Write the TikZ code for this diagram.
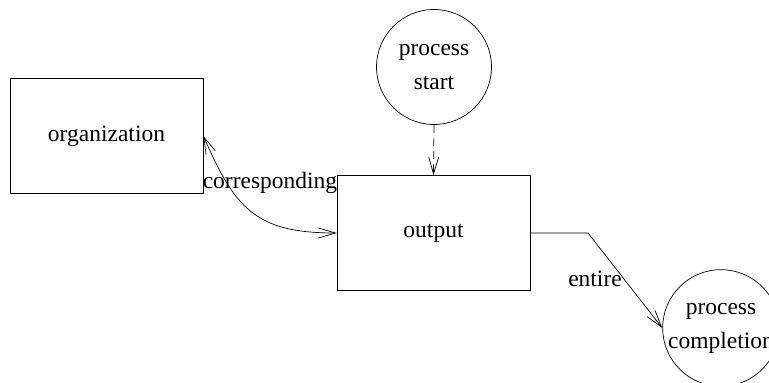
\documentclass[tikz,border=0pt]{standalone}
\usepackage{fontspec}
\setmainfont{Liberation Serif}
\newfontfamily\lserif{Liberation Serif}
\usetikzlibrary{arrows.meta}
\begin{document}
\begin{tikzpicture}[x=1pt,y=1pt,
  every node/.style={font=\lserif\fontsize{23.5}{34}\selectfont},
  box/.style={draw,line width=0.7pt,minimum width=193pt,minimum height=115pt,inner sep=0pt},
  circ/.style={draw,circle,line width=0.7pt,minimum size=115pt,inner sep=0pt,align=center},
  conn/.style={line width=0.7pt,-{Straight Barb[length=17pt,width=10pt]}},
  lbl/.style={inner sep=1pt}]
\useasboundingbox (0,0) rectangle (769,383);
\node[box] (org) at (106.5,247) {organization};
\node[box] (out) at (433.5,150) {output};
\node[circ] (start) at (434,316) {process\\start};
\node[circ] (comp) at (721,55) {process\\completion};
\coordinate (bend) at (588,150);
\draw[conn,{Straight Barb[length=17pt,width=10pt]}-{Straight Barb[length=17pt,width=10pt]}] (org.east) .. controls (235,175) and (255,150) .. (out.west);
\node[lbl] (corr) at (270,200) {corresponding};
\draw[conn,dash pattern=on 8pt off 5pt] (start.south) -- (out.north);
\draw[conn] (out.east) -- (bend) -- (comp.west);
\node[lbl] (ent) at (595,104) {entire};
\end{tikzpicture}
\end{document}
